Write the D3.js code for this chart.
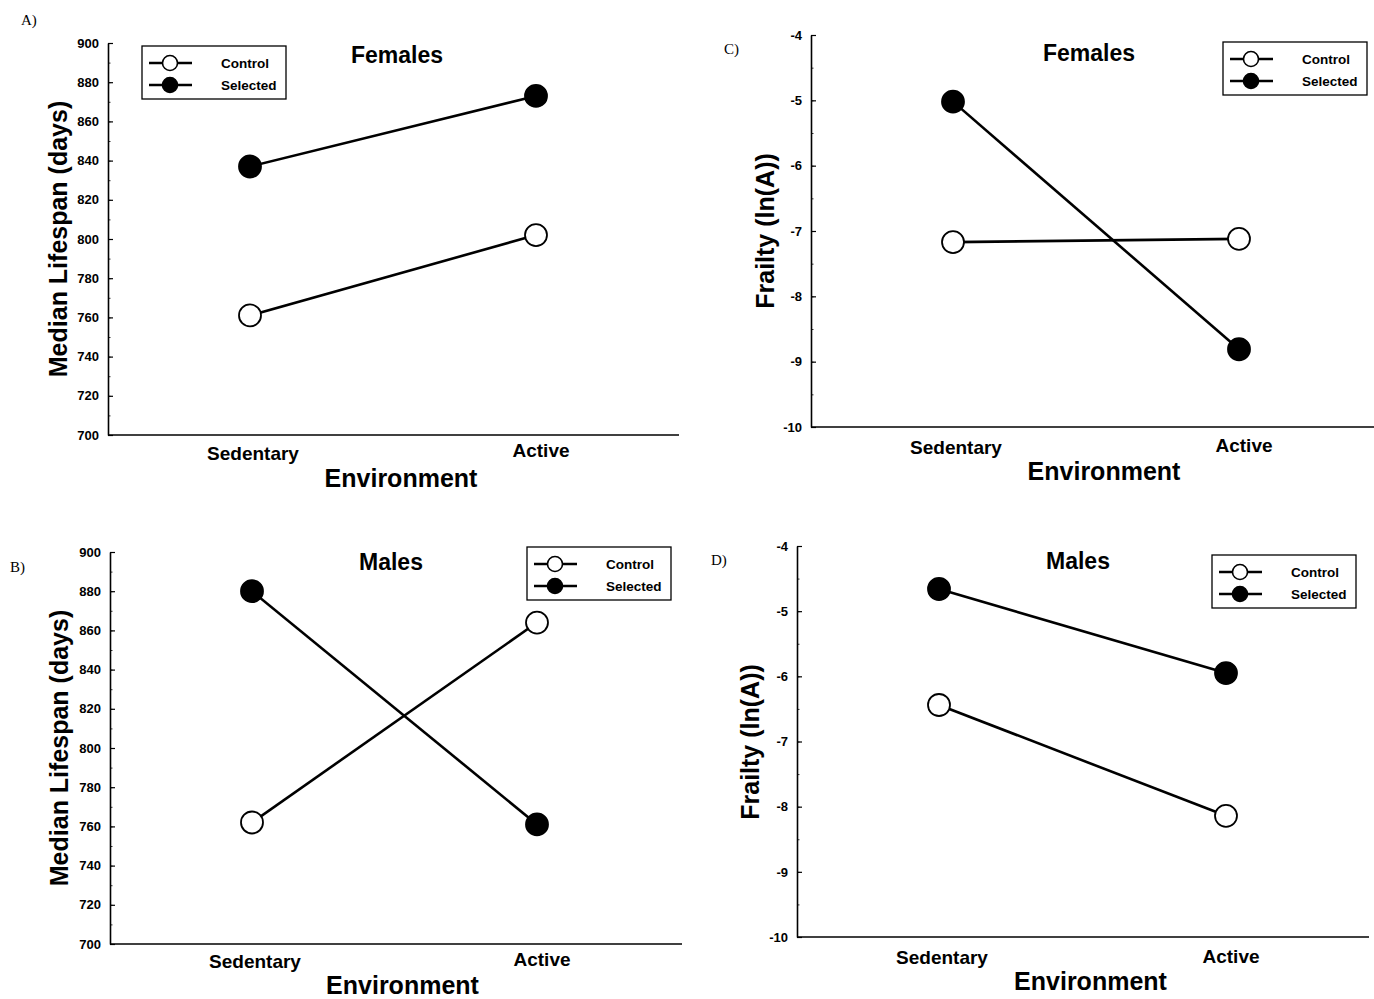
<!DOCTYPE html>
<html>
<head>
<meta charset="utf-8">
<script src="https://cdn.jsdelivr.net/npm/d3@7/dist/d3.min.js"></script>
<style>
  html, body { margin: 0; padding: 0; background: #fff; }
  svg { display: block; }
  text { font-family: "Liberation Sans", Arial, Helvetica, sans-serif; font-weight: bold; fill: #000; }
  .plabel { font-family: "Liberation Serif", "Times New Roman", serif; font-weight: normal; }
</style>
</head>
<body>
<svg id="chart" width="1374" height="999"></svg>
<script>
// ---------- data ----------
const categories = ["Sedentary", "Active"];
const seriesNames = ["Control", "Selected"];

const femalesLifespanControl  = [761, 802];
const femalesLifespanSelected = [837, 873];
const malesLifespanControl    = [762, 864];
const malesLifespanSelected   = [880, 761];

const femalesFrailtyControl   = [-7.17, -7.12];
const femalesFrailtySelected  = [-5.02, -8.81];
const malesFrailtyControl     = [-6.44, -8.14];
const malesFrailtySelected    = [-4.66, -5.95];

const lifespanTicks = [700, 720, 740, 760, 780, 800, 820, 840, 860, 880, 900];
const lifespanMinorTicks = d3.range(700, 901, 10);
const frailtyTicks = [-10, -9, -8, -7, -6, -5, -4];
const frailtyMinorTicks = d3.range(-10, -3.9, 0.5);

const lifespanLabel = "Median Lifespan (days)";
const frailtyLabel = "Frailty (ln(A))";
const xLabel = "Environment";

// ---------- layout ----------
const panels = [
  { tag: "A)", tagX: 21, tagY: 25, title: "Females", control: femalesLifespanControl, selected: femalesLifespanSelected,
    ticks: lifespanTicks, minor: lifespanMinorTicks, domain: [700, 900], ylabel: lifespanLabel,
    ax: 108, top: 43, bottom: 435, xEnd: 679, x0: 250, x1: 536, titleX: 397, titleY: 63, ylabX: 67, ylabY: 239,
    legX: 142, legY: 46, catDy: [25, 22], envDy: 52 },
  { tag: "B)", tagX: 10, tagY: 572, title: "Males", control: malesLifespanControl, selected: malesLifespanSelected,
    ticks: lifespanTicks, minor: lifespanMinorTicks, domain: [700, 900], ylabel: lifespanLabel,
    ax: 110, top: 552, bottom: 944, xEnd: 682, x0: 252, x1: 537, titleX: 391, titleY: 570, ylabX: 68, ylabY: 748,
    legX: 527, legY: 547, catDy: [24, 22], envDy: 50 },
  { tag: "C)", tagX: 724, tagY: 54, title: "Females", control: femalesFrailtyControl, selected: femalesFrailtySelected,
    ticks: frailtyTicks, minor: frailtyMinorTicks, domain: [-10, -4], ylabel: frailtyLabel,
    ax: 811, top: 35, bottom: 427, xEnd: 1374, x0: 953, x1: 1239, titleX: 1089, titleY: 61, ylabX: 774, ylabY: 231,
    legX: 1223, legY: 42, catDy: [27, 25], envDy: 53 },
  { tag: "D)", tagX: 711, tagY: 565, title: "Males", control: malesFrailtyControl, selected: malesFrailtySelected,
    ticks: frailtyTicks, minor: frailtyMinorTicks, domain: [-10, -4], ylabel: frailtyLabel,
    ax: 797, top: 546, bottom: 937, xEnd: 1369, x0: 939, x1: 1226, titleX: 1078, titleY: 569, ylabX: 759, ylabY: 742,
    legX: 1212, legY: 555, catDy: [27, 26], envDy: 53 }
];

const svg = d3.select("#chart");

panels.forEach(p => {
  const g = svg.append("g");
  const y = d3.scaleLinear().domain(p.domain).range([p.bottom, p.top]);
  const x = d3.scalePoint().domain(categories).range([p.x0, p.x1]);

  // panel tag
  g.append("text").attr("class", "plabel").attr("x", p.tagX).attr("y", p.tagY)
    .style("font-size", "15px").text(p.tag);

  // minor ticks
  g.append("g").attr("transform", `translate(${p.ax},0)`)
    .call(d3.axisLeft(y).tickValues(p.minor).tickSize(-2.5).tickSizeOuter(0).tickFormat(""))
    .call(s => s.select(".domain").remove())
    .call(s => s.selectAll("line").attr("stroke", "#333").attr("stroke-width", 1));

  // major y axis
  const yAxis = g.append("g").attr("transform", `translate(${p.ax},0)`)
    .call(d3.axisLeft(y).tickValues(p.ticks).tickSize(-5).tickSizeOuter(0).tickPadding(9)
      .tickFormat(d => String(d)));
  yAxis.select(".domain").attr("stroke", "#000").attr("stroke-width", 1.6);
  yAxis.selectAll(".tick line").attr("stroke", "#000").attr("stroke-width", 1.2);
  yAxis.selectAll(".tick text")
    .style("font-family", '"Liberation Sans", Arial, sans-serif')
    .style("font-weight", "bold").style("font-size", "13px").attr("fill", "#000");

  // x axis line
  g.append("line").attr("x1", p.ax).attr("x2", p.xEnd).attr("y1", p.bottom).attr("y2", p.bottom)
    .attr("stroke", "#000").attr("stroke-width", 1.6);

  // category labels
  categories.forEach((c, i) => {
    g.append("text").attr("x", x(c) + (i === 0 ? 3 : 5)).attr("y", p.bottom + p.catDy[i])
      .attr("text-anchor", "middle").style("font-size", "19px").text(c);
  });

  // x label
  g.append("text").attr("x", (p.x0 + p.x1) / 2 + 8).attr("y", p.bottom + p.envDy)
    .attr("text-anchor", "middle").style("font-size", "25px").text(xLabel);

  // y label
  g.append("text").attr("transform", `translate(${p.ylabX},${p.ylabY}) rotate(-90)`)
    .attr("text-anchor", "middle").style("font-size", "25px").text(p.ylabel);

  // title
  g.append("text").attr("x", p.titleX).attr("y", p.titleY)
    .attr("text-anchor", "middle").style("font-size", "23px").text(p.title);

  // series
  const series = [
    { name: seriesNames[0], values: p.control, fill: "#fff" },
    { name: seriesNames[1], values: p.selected, fill: "#000" }
  ];
  const line = d3.line().x((d, i) => x(categories[i])).y(d => y(d));
  series.forEach(s => {
    g.append("path").datum(s.values).attr("d", line)
      .attr("fill", "none").attr("stroke", "#000").attr("stroke-width", 2.6);
  });
  series.forEach(s => {
    g.selectAll(null).data(s.values).enter().append("circle")
      .attr("cx", (d, i) => x(categories[i])).attr("cy", d => y(d)).attr("r", 11)
      .attr("fill", s.fill).attr("stroke", "#000").attr("stroke-width", 1.8);
  });

  // legend
  const lg = g.append("g").attr("transform", `translate(${p.legX},${p.legY})`);
  lg.append("rect").attr("x", 0).attr("y", 0).attr("width", 144).attr("height", 53)
    .attr("fill", "#fff").attr("stroke", "#000").attr("stroke-width", 1.3);
  series.forEach((s, i) => {
    const cy = 17 + i * 22;
    lg.append("line").attr("x1", 7).attr("x2", 50).attr("y1", cy).attr("y2", cy)
      .attr("stroke", "#000").attr("stroke-width", 2.4);
    lg.append("circle").attr("cx", 28).attr("cy", cy).attr("r", 7.5)
      .attr("fill", s.fill).attr("stroke", "#000").attr("stroke-width", 1.6);
    lg.append("text").attr("x", 79).attr("y", cy + 5).style("font-size", "13.5px").text(s.name);
  });
});
</script>
</body>
</html>
